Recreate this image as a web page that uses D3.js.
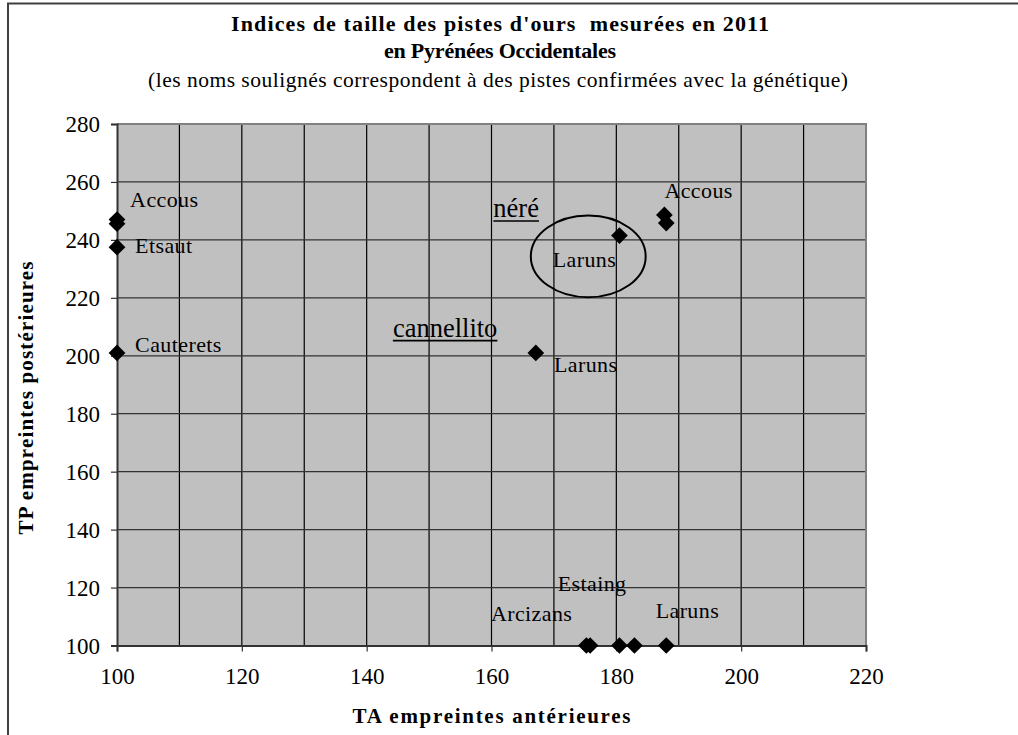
<!DOCTYPE html>
<html><head><meta charset="utf-8">
<script src="https://cdn.jsdelivr.net/npm/d3@7"></script>
<style>
html,body{margin:0;padding:0;background:#fff;}
svg{display:block;font-family:"Liberation Serif","Times New Roman",serif;}
text{white-space:pre;}
</style></head>
<body><svg id="c" width="1018" height="735"></svg>
<script>
// ---- data ----
const titleLines = ["Indices de taille des pistes d'ours  mesurées en 2011", "en Pyrénées Occidentales"];
const subtitle = "(les noms soulignés correspondent à des pistes confirmées avec la génétique)";
const xLabel = "TA empreintes antérieures";
const yLabel = "TP empreintes postérieures";
const xTicks = [100, 120, 140, 160, 180, 200, 220];
const yTicks = [100, 120, 140, 160, 180, 200, 220, 240, 260, 280];
// measured tracks: TA (x), TP (y)
const pointsTA = [100, 100, 100, 100, 180.5, 167.1, 187.7, 188, 175.2, 175.8, 180.5, 182.9, 188];
const pointsTP = [247, 245.6, 237.5, 201, 241.5, 201, 248.6, 245.8, 100, 100, 100, 100, 100];
// annotation labels (anchored in data units)
const labelText = ["Accous", "Etsaut", "Cauterets", "néré", "Laruns", "cannellito", "Laruns", "Accous", "Estaing", "Arcizans", "Laruns"];
const labelTA = [102.1, 102.9, 102.9, 160.3, 169.8, 144.2, 170.0, 187.7, 170.6, 159.9, 186.3];
const labelTP = [251.4, 235.5, 201.4, 247.9, 230.8, 206.6, 194.4, 254.4, 118.7, 108.4, 109.6];
const labelUnderlined = [false, false, false, true, false, true, false, false, false, false, false];
// circled group (centre TA, TP, radii in data units)
const ellipseTA = 175.5, ellipseTP = 234.3, ellipseRTA = 9.2, ellipseRTP = 14.1;

// ---- layout ----
const svg = d3.select("#c");
const L = 117, R = 866, T = 124, B = 645.5;
const x = d3.scaleLinear().domain([100, 220]).range([L, R]);
const y = d3.scaleLinear().domain([100, 280]).range([B, T]);

// outer frame (cut at right and bottom)
svg.append("path").attr("d", "M8,735 V3.5 H1018").attr("fill", "none").attr("stroke", "#404040").attr("stroke-width", 2);

// titles
svg.append("text").attr("x", 500).attr("y", 31).attr("text-anchor", "middle")
  .attr("font-weight", "bold").attr("font-size", 22).attr("textLength", 538).attr("lengthAdjust", "spacing").text(titleLines[0]);
svg.append("text").attr("x", 500).attr("y", 58).attr("text-anchor", "middle")
  .attr("font-weight", "bold").attr("font-size", 22).attr("textLength", 232).attr("lengthAdjust", "spacing").text(titleLines[1]);
svg.append("text").attr("x", 498).attr("y", 87).attr("text-anchor", "middle")
  .attr("font-size", 21.5).attr("textLength", 700).attr("lengthAdjust", "spacing").text(subtitle);

// plot area
svg.append("rect").attr("x", L).attr("y", T).attr("width", R - L).attr("height", B - T).attr("fill", "#c0c0c0");

// grid
const gx = d3.range(110, 220, 10);
svg.append("g").selectAll("line").data(gx).join("line")
  .attr("x1", d => x(d)).attr("x2", d => x(d)).attr("y1", T).attr("y2", B)
  .attr("stroke", "#000").attr("stroke-width", 1.2);
svg.append("g").selectAll("line").data(yTicks.slice(1, -1)).join("line")
  .attr("x1", L).attr("x2", R).attr("y1", d => y(d)).attr("y2", d => y(d))
  .attr("stroke", "#333").attr("stroke-width", 1.2);
// plot border top/right
svg.append("path").attr("d", `M${L},${T} H${R} V${B}`).attr("fill", "none").attr("stroke", "#808080").attr("stroke-width", 2);

// axes
const xAxis = svg.append("g").attr("transform", `translate(0,${B})`)
  .call(d3.axisBottom(x).tickValues(xTicks).tickSize(6).tickFormat(d3.format("d")));
const yAxis = svg.append("g").attr("transform", `translate(${L},0)`)
  .call(d3.axisLeft(y).tickValues(yTicks).tickSize(6).tickFormat(d3.format("d")));
[xAxis, yAxis].forEach(g => {
  g.attr("font-family", null);
  g.select(".domain").attr("stroke", "#333").attr("stroke-width", 2);
  g.selectAll(".tick line").attr("stroke", "#333").attr("stroke-width", 1.2);
  g.selectAll("text").attr("font-family", "Liberation Serif").attr("font-size", 23).attr("fill", "#000");
});
xAxis.selectAll("text").attr("dy", 0).attr("y", 38);
yAxis.selectAll("text").attr("x", -17).attr("dy", "0.34em");

// axis titles
svg.append("text").attr("x", (L + R) / 2).attr("y", 723).attr("text-anchor", "middle")
  .attr("font-weight", "bold").attr("font-size", 21).attr("textLength", 278).attr("lengthAdjust", "spacing").text(xLabel);
svg.append("text").attr("transform", "translate(33,398) rotate(-90)").attr("text-anchor", "middle")
  .attr("font-weight", "bold").attr("font-size", 21).attr("textLength", 273).attr("lengthAdjust", "spacing").text(yLabel);

// ellipse
svg.append("ellipse").attr("cx", x(ellipseTA)).attr("cy", y(ellipseTP))
  .attr("rx", x(ellipseTA + ellipseRTA) - x(ellipseTA)).attr("ry", y(ellipseTP) - y(ellipseTP + ellipseRTP))
  .attr("fill", "none").attr("stroke", "#000").attr("stroke-width", 2);

// labels
const lab = svg.append("g");
labelText.forEach((t, i) => {
  const big = labelUnderlined[i];
  const tx = lab.append("text").attr("x", x(labelTA[i])).attr("y", y(labelTP[i]))
    .attr("font-size", big ? 26.5 : 22).attr("letter-spacing", big ? 0 : 0.4).attr("fill", "#000").text(t);
  if (big) {
    const w = tx.node().getComputedTextLength();
    lab.append("line").attr("x1", x(labelTA[i])).attr("x2", x(labelTA[i]) + w)
      .attr("y1", y(labelTP[i]) + 4).attr("y2", y(labelTP[i]) + 4)
      .attr("stroke", "#000").attr("stroke-width", 1.6);
  }
});

// points
const sym = d3.symbol().type(d3.symbolSquare).size(140);
svg.append("g").selectAll("path").data(pointsTA.map((v, i) => [v, pointsTP[i]])).join("path")
  .attr("d", sym).attr("fill", "#000")
  .attr("transform", d => `translate(${x(d[0])},${y(d[1])}) rotate(45)`);
</script></body></html>
